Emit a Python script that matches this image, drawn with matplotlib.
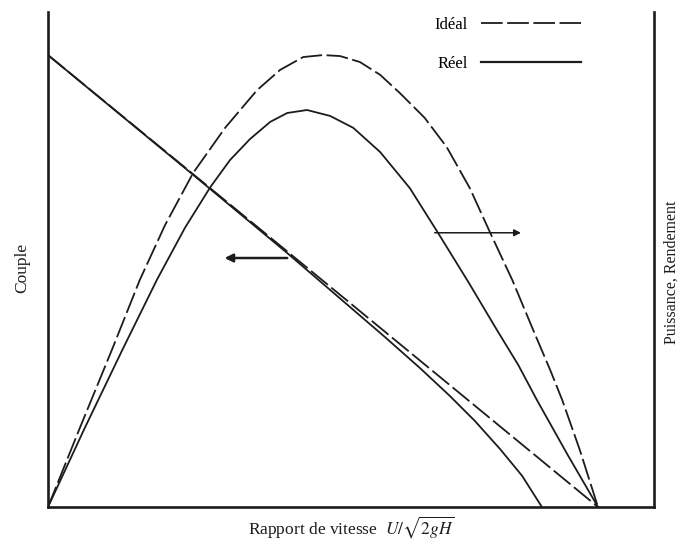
import matplotlib
matplotlib.use("Agg")
import matplotlib.pyplot as plt
from matplotlib.lines import Line2D

plt.rcParams['font.family'] = ['Liberation Serif', 'DejaVu Serif']
plt.rcParams['mathtext.fontset'] = 'stix'

# Speed ratio (normalised, runaway = 1.0) and values (normalised to axis height)
torque_ideal_x = [0.0, 0.5, 1.0]
torque_ideal_y = [0.913, 0.457, 0.0]

torque_real_x = [0.0, 0.264, 0.435, 0.613, 0.676, 0.731, 0.776, 0.822, 0.862, 0.898]
torque_real_y = [0.913, 0.671, 0.513, 0.343, 0.281, 0.224, 0.174, 0.117, 0.063, 0.0]

power_ideal_x = [0.0, 0.058, 0.116, 0.167, 0.213, 0.264, 0.322, 0.380, 0.422, 0.464,
                 0.500, 0.531, 0.567, 0.604, 0.640, 0.685, 0.725, 0.767, 0.804, 0.844,
                 0.882, 0.913, 0.935, 0.967, 1.0]
power_ideal_y = [0.0, 0.160, 0.317, 0.459, 0.570, 0.675, 0.766, 0.842, 0.883, 0.909,
                 0.913, 0.911, 0.899, 0.873, 0.836, 0.786, 0.727, 0.644, 0.554, 0.459,
                 0.358, 0.277, 0.216, 0.115, 0.0]

power_real_x = [0.0, 0.067, 0.135, 0.198, 0.249, 0.295, 0.331, 0.367, 0.404, 0.435,
                0.471, 0.513, 0.555, 0.604, 0.658, 0.709, 0.764, 0.816, 0.855, 0.889,
                0.945, 1.0]
power_real_y = [0.0, 0.160, 0.317, 0.459, 0.564, 0.646, 0.701, 0.743, 0.778, 0.796,
                0.802, 0.790, 0.766, 0.717, 0.644, 0.554, 0.455, 0.358, 0.287, 0.216,
                0.105, 0.0]

legend_labels = ["Idéal", "Réel"]
xlabel = r"Rapport de vitesse  $U/\sqrt{2gH}$"
left_label = "Couple"
right_label = "Puissance, Rendement"

ink = "#1c1c1c"
dash = (12, 2.5)

fig = plt.figure(figsize=(6.82, 5.55), dpi=100)
ax = fig.add_axes([48/682, 1-507/555, (654-48)/682, (507-12)/555])

ax.plot(torque_ideal_x, torque_ideal_y, color=ink, lw=1.3, dashes=dash)
ax.plot(torque_real_x, torque_real_y, color=ink, lw=1.3)
ax.plot(power_ideal_x, power_ideal_y, color=ink, lw=1.3, dashes=dash)
ax.plot(power_real_x, power_real_y, color=ink, lw=1.3)

ax.set_xlim(0, 606/550)
ax.set_ylim(0, 1.0)
ax.set_xticks([])
ax.set_yticks([])
ax.spines['top'].set_visible(False)
for s in ['left', 'right', 'bottom']:
    ax.spines[s].set_linewidth(1.9)
    ax.spines[s].set_color(ink)

# direction arrows
ax.annotate("", xy=(0.316, 0.503), xytext=(0.44, 0.503),
            arrowprops=dict(arrowstyle="-|>", color=ink, lw=1.8, mutation_scale=12))
ax.annotate("", xy=(0.865, 0.554), xytext=(0.698, 0.554),
            arrowprops=dict(arrowstyle="-|>", color=ink, lw=1.1, mutation_scale=10))

handles = [Line2D([], [], color=ink, lw=1.3, dashes=dash),
           Line2D([], [], color=ink, lw=1.6)]
ax.legend(handles, legend_labels, loc='upper right', bbox_to_anchor=(0.905, 1.02),
          frameon=False, markerfirst=False, handlelength=6.0, labelspacing=1.35,
          handletextpad=0.8, fontsize=12)

ax.set_xlabel(xlabel, fontsize=12.5, labelpad=5, color=ink)
fig.text(22/682, 1-268/555, left_label, rotation=90, ha='center', va='center',
         fontsize=12.5, color=ink)
fig.text(672/682, 1-272/555, right_label, rotation=90, ha='center', va='center',
         fontsize=11.5, color=ink)

fig.savefig("out.png", dpi=100)
